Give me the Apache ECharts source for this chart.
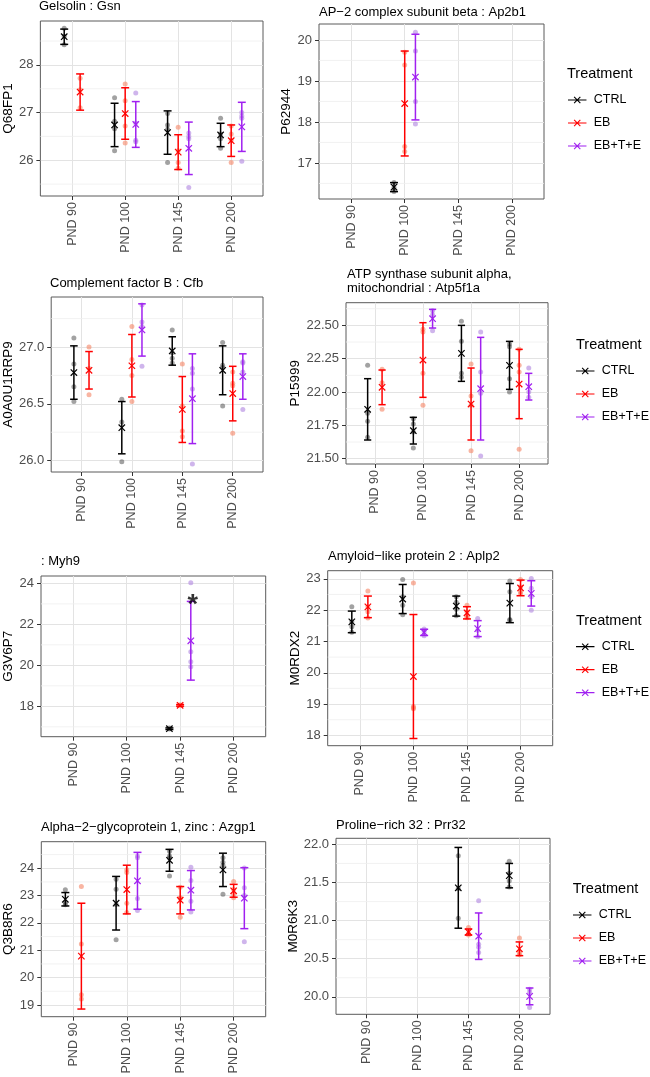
<!DOCTYPE html>
<html><head><meta charset="utf-8">
<script src="https://cdn.jsdelivr.net/npm/echarts@6/dist/echarts.min.js"></script>
<style>html,body{margin:0;padding:0;background:#fff}#c{width:650px;height:1077px}</style>
</head><body><div id="c"></div>
<script>
const categories = ['PND 90','PND 100','PND 145','PND 200'];
const groups = ['CTRL','EB','EB+T+E'];

// Gelsolin : Gsn
const gsnMean = [[28.59,26.74,26.58,26.53],[27.43,26.98,26.17,26.41],[null,26.75,26.25,26.70]];
const gsnErr  = [[0.16,0.455,0.455,0.245],[0.38,0.54,0.365,0.33],[null,0.48,0.55,0.515]];
const gsnPts  = [
 [[28.77,28.60,28.42],[27.31,26.82,26.66,26.20],[26.98,26.74,26.65,25.95],[26.88,26.55,26.45,26.25]],
 [[27.72,27.48,27.10],[27.60,27.25,26.72,26.36],[26.69,26.20,25.95,25.83],[26.72,26.55,26.42,25.95]],
 [[],[27.41,26.78,26.42,26.39],[26.57,26.50,26.45,25.43],[27.00,26.93,26.88,25.98]]];
const gsnTicks = [26,27,28];
const gsnMinor = [25.5,26.5,27.5,28.5];

// AP-2 complex subunit beta : Ap2b1
const ap2Mean = [[null,16.41,null,null],[null,18.45,null,null],[null,19.095,null,null]];
const ap2Err  = [[null,0.11,null,null],[null,1.28,null,null],[null,1.045,null,null]];
const ap2Pts  = [[[],[16.52,16.40,16.30],[],[]],[[],[19.70,19.39,17.40,17.28],[],[]],[[],[20.19,19.73,18.50,17.95],[],[]]];
const ap2Ticks = [17,18,19,20];
const ap2Minor = [16.5,17.5,18.5,19.5];

// Complement factor B : Cfb
const cfbMean = [[26.775,26.29,26.965,26.795],[26.795,26.835,26.45,26.59],[null,27.15,26.545,26.74]];
const cfbErr  = [[0.235,0.23,0.125,0.215],[0.165,0.275,0.29,0.24],[null,0.23,0.395,0.20]];
const cfbPts  = [
 [[27.08,26.85,26.65,26.52],[26.54,26.34,25.99],[27.15,26.95,26.90,26.86],[27.04,26.84,26.82,26.48]],
 [[27.00,26.81,26.58],[27.18,26.89,26.75,26.52],[26.85,26.48,26.26,26.21],[26.78,26.68,26.66,26.24]],
 [[],[27.37,27.22,27.18,26.83],[26.81,26.77,26.63,25.97],[26.87,26.86,26.78,26.45]]];
const cfbTicks = [26.0,26.5,27.0];
const cfbMinor = [26.25,26.75,27.25];

// ATP synthase subunit alpha : Atp5f1a
const atpMean = [[21.87,21.71,22.29,22.20],[22.035,22.24,21.91,22.06],[null,22.55,22.025,22.04]];
const atpErr  = [[0.23,0.10,0.21,0.18],[0.13,0.28,0.27,0.26],[null,0.07,0.385,0.10]];
const atpPts  = [
 [[22.20,21.84,21.78,21.66],[21.80,21.76,21.70,21.58],[22.53,22.38,22.14,22.11],[22.36,22.34,22.10,22.00]],
 [[22.17,22.07,21.87],[22.47,22.45,22.14,21.90],[22.21,21.97,21.90,21.56],[22.32,22.20,22.15,21.57]],
 [[],[22.61,22.58,22.46],[22.45,22.15,21.99,21.52],[22.18,22.00,21.96]]];
const atpTicks = [21.50,21.75,22.00,22.25,22.50];
const atpMinor = [21.625,21.875,22.125,22.375,22.625];

// Myh9
const myhMean = [[null,null,16.91,null],[null,null,18.05,null],[null,null,21.20,null]];
const myhErr  = [[null,null,0.04,null],[null,null,0.04,null],[null,null,1.92,null]];
const myhPts  = [[[],[],[16.94,16.89],[]],[[],[],[18.08,18.03],[]],[[],[],[24.03,20.67,20.18,19.93],[]]];
const myhTicks = [18,20,22,24];
const myhMinor = [17,19,21,23];
const myhStar = {group:2, cat:2, y:23.27, text:'*'};

// Amyloid-like protein 2 : Aplp2
const aplMean = [[21.625,22.355,22.13,22.225],[22.105,19.88,21.915,22.71],[null,21.29,21.41,22.535]];
const aplErr  = [[0.345,0.465,0.32,0.625],[0.345,1.98,0.195,0.25],[null,0.10,0.255,0.405]];
const aplPts  = [
 [[22.11,21.63,21.47,21.29],[22.98,22.43,22.16,21.85],[22.43,22.25,22.03,21.82],[22.93,22.59,21.70,21.68]],
 [[22.61,22.11,21.95,21.75],[22.87,18.92,18.88,18.85],[22.16,21.95,21.79,21.76],[22.98,22.74,22.59,22.53]],
 [[],[21.40,21.30,21.18],[21.73,21.36,21.15],[23.01,22.70,22.43,22.00]]];
const aplTicks = [18,19,20,21,22,23];
const aplMinor = [18.5,19.5,20.5,21.5,22.5];

// Alpha-2-glycoprotein 1, zinc : Azgp1
const azgMean = [[22.865,22.72,24.29,23.94],[20.785,23.22,22.83,23.175],[null,23.54,23.195,22.905]];
const azgErr  = [[0.245,0.98,0.40,0.61],[1.935,0.89,0.50,0.235],[null,1.04,0.72,1.115]];
const azgPts  = [
 [[23.21,22.73,22.66],[23.60,23.23,22.67,21.38],[24.62,24.45,24.37,23.72],[24.38,24.22,24.11,23.05]],
 [[23.33,21.23,19.37,19.22],[23.94,23.84,22.72,22.38],[23.30,22.92,22.89,22.21],[23.51,23.22,23.05,22.92]],
 [[],[24.45,24.38,22.89,22.45],[24.04,23.55,22.79,22.40],[24.01,23.29,23.00,21.31]]];
const azgTicks = [19,20,21,22,23,24];
const azgMinor = [19.5,20.5,21.5,22.5,23.5,24.5];

// Proline-rich 32 : Prr32
const prrMean = [[null,null,21.43,21.59],[null,null,20.85,20.63],[null,null,20.795,20.005]];
const prrErr  = [[null,null,0.53,0.16],[null,null,0.04,0.09],[null,null,0.305,0.11]];
const prrPts  = [
 [[],[],[21.85,21.42,21.03],[21.78,21.62,21.52,21.44]],
 [[],[],[20.91,20.83,20.81],[20.77,20.58,20.55]],
 [[],[],[21.26,20.69,20.65,20.58],[20.10,20.06,19.86]]];
const prrTicks = [20.0,20.5,21.0,21.5,22.0];
const prrMinor = [20.25,20.75,21.25,21.75];

// ---------------- layout / style ----------------
const FONT = '"Liberation Sans", Arial, Helvetica, sans-serif';
const lineColors = ['#000000','#FF0000','#A020F0'];
const dotColors = ['rgba(60,60,60,0.6)','rgba(245,140,110,0.8)','rgba(180,140,225,0.8)'];
const DODGE = 0.6;

const panels = [
 {title:'Gelsolin : Gsn', yName:'Q68FP1', mean:gsnMean, err:gsnErr, pts:gsnPts, ticks:gsnTicks, minor:gsnMinor, dec:0,
  yMin:25.25, yMax:28.92, left:39, top:21, width:224, height:175, nameGap:25, tx:39, ty:6.5},
 {title:'AP\u22122 complex subunit beta : Ap2b1', yName:'P62944', mean:ap2Mean, err:ap2Err, pts:ap2Pts, ticks:ap2Ticks, minor:ap2Minor, dec:0,
  yMin:16.12, yMax:20.39, left:319, top:24, width:225, height:175, nameGap:26, tx:319, ty:12.8},
 {title:'Complement factor B : Cfb', yName:'A0A0U1RRP9', mean:cfbMean, err:cfbErr, pts:cfbPts, ticks:cfbTicks, minor:cfbMinor, dec:1,
  yMin:25.90, yMax:27.44, left:50, top:297, width:213, height:175, nameGap:35, tx:50, ty:283},
 {title:'ATP synthase subunit alpha,\nmitochondrial : Atp5f1a', yName:'P15999', mean:atpMean, err:atpErr, pts:atpPts, ticks:atpTicks, minor:atpMinor, dec:2,
  yMin:21.46, yMax:22.67, left:346, top:302.7, width:202, height:161.3, nameGap:42, tx:347, ty:281.3},
 {title:': Myh9', yName:'G3V6P7', mean:myhMean, err:myhErr, pts:myhPts, ticks:myhTicks, minor:myhMinor, dec:0,
  yMin:16.52, yMax:24.36, left:41, top:576, width:224.7, height:160.7, nameGap:26, tx:41, ty:561.7, star:myhStar},
 {title:'Amyloid\u2212like protein 2 : Aplp2', yName:'M0RDX2', mean:aplMean, err:aplErr, pts:aplPts, ticks:aplTicks, minor:aplMinor, dec:0,
  yMin:17.67, yMax:23.26, left:327.7, top:570.7, width:225, height:175, nameGap:24, tx:328, ty:556},
 {title:'Alpha\u22122\u2212glycoprotein 1, zinc : Azgp1', yName:'Q3B8R6', mean:azgMean, err:azgErr, pts:azgPts, ticks:azgTicks, minor:azgMinor, dec:0,
  yMin:18.57, yMax:24.97, left:41.3, top:841.7, width:224.4, height:175, nameGap:26, tx:41, ty:827},
 {title:'Proline\u2212rich 32 : Prr32', yName:'M0R6K3', mean:prrMean, err:prrErr, pts:prrPts, ticks:prrTicks, minor:prrMinor, dec:1,
  yMin:19.77, yMax:22.08, left:336, top:838.3, width:214, height:176, nameGap:34, tx:336, ty:825.3}
];

const legendRows = [
 {keyLeft:568, firstCy:100, tLeft:567, tCy:74},
 {keyLeft:576, firstCy:371, tLeft:576, tCy:345},
 {keyLeft:576, firstCy:646.7, tLeft:576, tCy:620.7},
 {keyLeft:573, firstCy:915, tLeft:572.7, tCy:889.3}
];

const keyPath = 'path://M0,2.9H19V4.1H0Z M5.9,0.7L6.7,-0.1L13.1,6.3L12.3,7.1Z M12.3,-0.1L13.1,0.7L6.7,7.1L5.9,6.3Z';

const grids = [], xAxes = [], yAxes = [], series = [], titles = [], legends = [];

function renderErr(params, api) {
  const x = api.value(0), m = api.value(1), e = api.value(2);
  const t = api.coord([x, m + e]), b = api.coord([x, m - e]), c = api.coord([x, m]);
  const unit = api.size([1, 0])[0];
  const hw = unit * 0.075;
  const col = api.visual('color');
  const st = {stroke: col, lineWidth: 1.5, fill: null};
  const s = 3.2;
  return {type: 'group', children: [
    {type:'line', shape:{x1:t[0], y1:t[1], x2:b[0], y2:b[1]}, style:st},
    {type:'line', shape:{x1:t[0]-hw, y1:t[1], x2:t[0]+hw, y2:t[1]}, style:st},
    {type:'line', shape:{x1:b[0]-hw, y1:b[1], x2:b[0]+hw, y2:b[1]}, style:st},
    {type:'line', shape:{x1:c[0]-s, y1:c[1]-s, x2:c[0]+s, y2:c[1]+s}, style:{stroke:col, lineWidth:1.2}},
    {type:'line', shape:{x1:c[0]-s, y1:c[1]+s, x2:c[0]+s, y2:c[1]-s}, style:{stroke:col, lineWidth:1.2}}
  ]};
}
function renderMinor(params, api) {
  const v = api.value(1);
  const a = api.coord([0.4, v]), b = api.coord([4.6, v]);
  return {type:'line', shape:{x1:a[0], y1:a[1], x2:b[0], y2:b[1]}, style:{stroke:'#efefef', lineWidth:0.8}};
}

panels.forEach((p, pi) => {
  grids.push({left:p.left, top:p.top, width:p.width, height:p.height, show:true,
    borderColor:'#5a5a5a', borderWidth:1, backgroundColor:'transparent', containLabel:false});
  xAxes.push({type:'value', gridIndex:pi, min:0.4, max:4.6,
    axisLine:{show:false},
    axisTick:{show:true, customValues:[1,2,3,4], length:4, lineStyle:{color:'#333', width:1}},
    axisLabel:{show:true, customValues:[1,2,3,4], rotate:90, margin:6, color:'#4d4d4d', fontSize:12.5, fontFamily:FONT,
      formatter: v => categories[Math.round(v) - 1]},
    splitLine:{show:true, lineStyle:{color:'#e3e3e3', width:1}}});
  yAxes.push({type:'value', gridIndex:pi, min:p.yMin, max:p.yMax,
    name:p.yName, nameLocation:'middle', nameGap:p.nameGap, nameRotate:90,
    nameTextStyle:{color:'#000', fontSize:13.5, fontFamily:FONT},
    axisLine:{show:false},
    axisTick:{show:true, customValues:p.ticks, length:4, lineStyle:{color:'#333', width:1}},
    axisLabel:{show:true, customValues:p.ticks, margin:7, color:'#4d4d4d', fontSize:13, fontFamily:FONT,
      formatter: v => Number(v).toFixed(p.dec)},
    splitLine:{show:true, lineStyle:{color:'#e3e3e3', width:1}}});
  titles.push({text:p.title, left:p.tx, top:p.ty - (p.title.indexOf('\n') >= 0 ? 13.5 : 8), padding:0,
    textStyle:{fontSize:13, fontWeight:'normal', color:'#000', fontFamily:FONT, lineHeight: p.title.indexOf('\n') >= 0 ? 13.5 : 16}});

  const present = categories.map((c, ci) => groups.map((g, gi) => gi).filter(gi => p.mean[gi][ci] != null));
  const xpos = (gi, ci) => {
    const pr = present[ci], n = pr.length, r = pr.indexOf(gi);
    return ci + 1 + (r - (n - 1) / 2) * DODGE / n;
  };

  series.push({type:'custom', xAxisIndex:pi, yAxisIndex:pi, silent:true, z:1, renderItem:renderMinor,
    data:p.minor.map(v => [0.4, v])});

  groups.forEach((g, gi) => {
    const pd = [];
    categories.forEach((c, ci) => (p.pts[gi][ci] || []).forEach(v => pd.push([xpos(gi, ci), v])));
    series.push({type:'scatter', name:g + ' points', xAxisIndex:pi, yAxisIndex:pi, z:2, silent:true,
      symbol:'circle', symbolSize:5, itemStyle:{color:dotColors[gi]}, data:pd});
  });
  groups.forEach((g, gi) => {
    const ed = [];
    categories.forEach((c, ci) => { if (p.mean[gi][ci] != null) ed.push([xpos(gi, ci), p.mean[gi][ci], p.err[gi][ci]]); });
    series.push({type:'custom', name:g, xAxisIndex:pi, yAxisIndex:pi, z:3, renderItem:renderErr,
      itemStyle:{color:lineColors[gi]}, encode:{x:0, y:1}, data:ed});
  });
  if (p.star) {
    series.push({type:'scatter', xAxisIndex:pi, yAxisIndex:pi, z:4, silent:true, symbolSize:1,
      itemStyle:{color:'transparent'},
      label:{show:true, position:'inside', formatter:p.star.text, fontSize:27, fontWeight:'bold', color:'#000', fontFamily:FONT, offset:[2, 7]},
      data:[[xpos(p.star.group, p.star.cat), p.star.y]]});
  }
});

legendRows.forEach(r => {
  titles.push({text:'Treatment', left:r.tLeft, top:r.tCy - 8.5, padding:0,
    textStyle:{fontSize:14.5, fontWeight:'normal', color:'#000', fontFamily:FONT, lineHeight:17}});
  legends.push({orient:'vertical', left:r.keyLeft, top:r.firstCy - 7, padding:0, itemWidth:19, itemHeight:7, itemGap:9,
    icon:keyPath, data:groups, selectedMode:false, itemStyle:{borderWidth:0},
    textStyle:{fontSize:12.5, color:'#000', fontFamily:FONT, lineHeight:14, padding:[0,0,0,2]}});
});

const chart = echarts.init(document.getElementById('c'), null, {renderer:'canvas'});
chart.setOption({animation:false, backgroundColor:'#fff', title:titles, legend:legends,
  grid:grids, xAxis:xAxes, yAxis:yAxes, series:series});
</script></body></html>
